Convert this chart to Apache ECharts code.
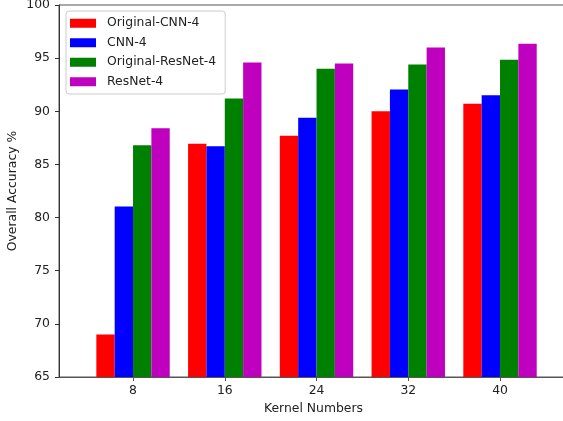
<!DOCTYPE html>
<html>
<head>
<meta charset="utf-8">
<script src="https://cdn.jsdelivr.net/npm/echarts@6/dist/echarts.min.js"></script>
<style>html,body{margin:0;padding:0;background:#fff;}#c{width:563px;height:421px;}</style>
</head>
<body>
<div id="c"></div>
<script>
const categories = ['8', '16', '24', '32', '40'];
const seriesNames = ['Original-CNN-4', 'CNN-4', 'Original-ResNet-4', 'ResNet-4'];
const originalCnn4 = [69.0, 86.95, 87.7, 90.0, 90.7];
const cnn4 = [81.05, 86.7, 89.4, 92.05, 91.5];
const originalResnet4 = [86.8, 91.2, 94.0, 94.4, 94.85];
const resnet4 = [88.4, 94.6, 94.5, 96.0, 96.35];
const yTicks = { min: 65, max: 100, interval: 5 };

const colors = ['#ff0000', '#0000ff', '#008000', '#bf00bf'];
const allValues = [originalCnn4, cnn4, originalResnet4, resnet4];
const font = 'DejaVu Sans';
const fs = 12.4;
const idx = categories.map((_, i) => i);

const chart = echarts.init(document.getElementById('c'));
chart.setOption({
  animation: false,
  backgroundColor: '#fff',
  textStyle: { fontFamily: font },
  grid: {
    left: 59, top: 5, right: -5, bottom: 44,
    outerBoundsMode: 'none',
    show: true, borderColor: '#555', borderWidth: 1, containLabel: false
  },
  legend: {
    orient: 'vertical',
    left: 66, top: 11,
    data: seriesNames,
    itemWidth: 26, itemHeight: 9, itemGap: 5,
    padding: [5, 9, 5, 4],
    borderColor: '#cccccc', borderWidth: 1, borderRadius: 3,
    backgroundColor: 'rgba(255,255,255,0.8)',
    icon: 'rect',
    textStyle: { fontFamily: font, fontSize: fs, color: '#222', lineHeight: 14.5, padding: [0, 0, 0, 6] }
  },
  xAxis: {
    type: 'value',
    min: -0.807, max: 4.741,
    name: 'Kernel Numbers',
    nameLocation: 'middle', nameGap: 26,
    nameTextStyle: { fontFamily: font, fontSize: fs, color: '#222' },
    axisLine: { show: true, onZero: false, lineStyle: { color: '#555', width: 1 } },
    axisTick: { show: true, length: 4, customValues: idx, lineStyle: { color: '#555' } },
    axisLabel: {
      customValues: idx, margin: 8,
      fontFamily: font, fontSize: fs, color: '#222',
      formatter: v => categories[Math.round(v)]
    },
    splitLine: { show: false }
  },
  yAxis: {
    type: 'value',
    min: yTicks.min, max: yTicks.max, interval: yTicks.interval,
    name: 'Overall Accuracy %',
    nameLocation: 'middle', nameGap: 40,
    nameMoveOverlap: false,
    nameTextStyle: { fontFamily: font, fontSize: fs, color: '#222' },
    axisLine: { show: true, onZero: false, lineStyle: { color: '#333', width: 1 } },
    axisTick: { show: true, length: 4, lineStyle: { color: '#333' } },
    axisLabel: { margin: 9, fontFamily: font, fontSize: fs, color: '#222' },
    splitLine: { show: false }
  },
  series: seriesNames.map((name, s) => ({
    name,
    type: 'bar',
    barWidth: 18.35,
    barGap: '0%',
    clip: true,
    itemStyle: { color: colors[s] },
    data: allValues[s].map((v, i) => [i, v])
  }))
});
</script>
</body>
</html>
